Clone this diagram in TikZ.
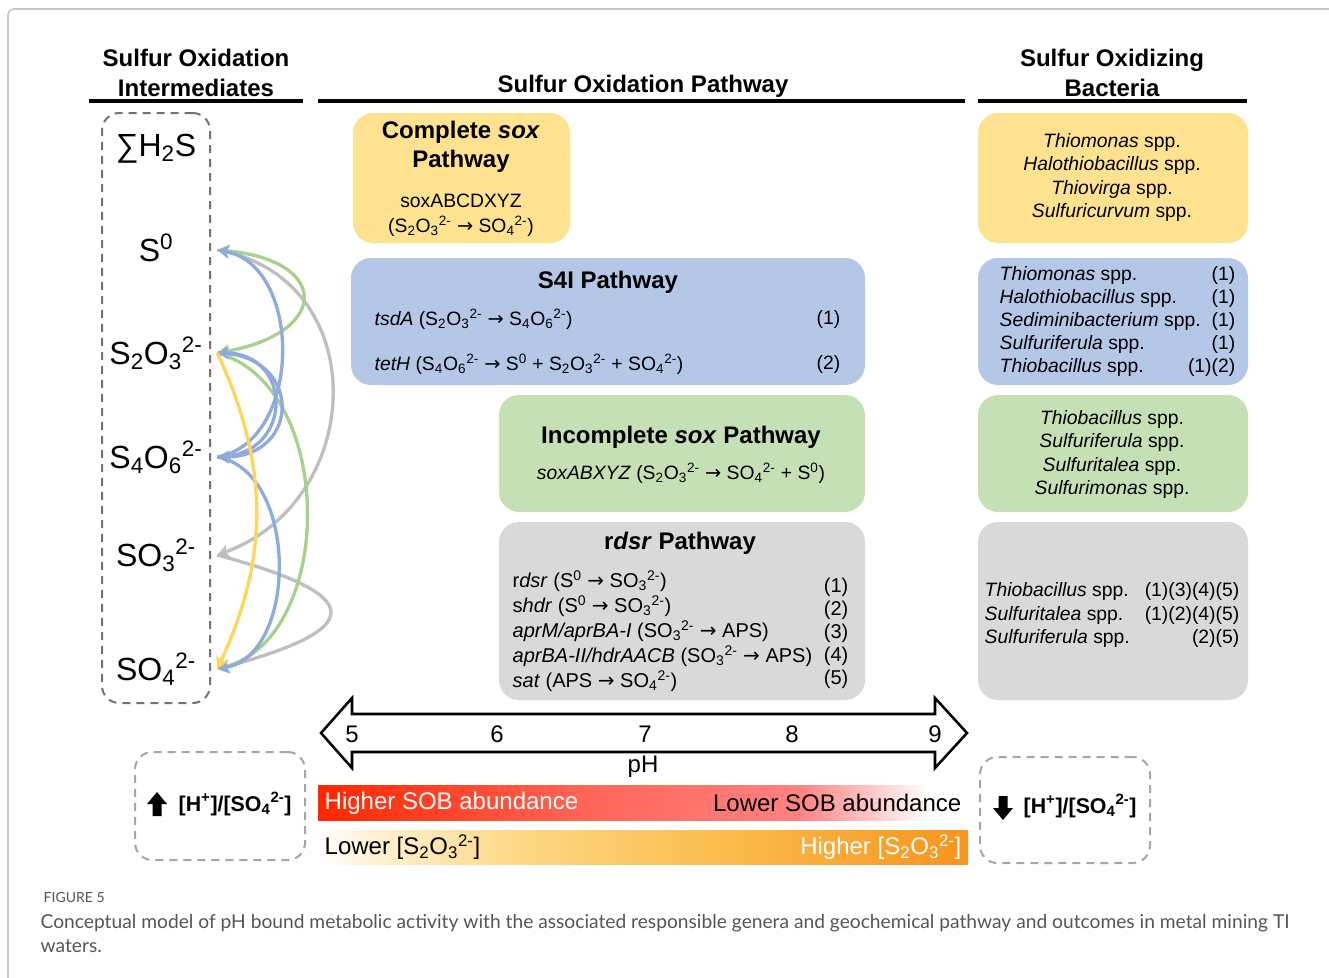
\documentclass[tikz,border=0pt]{standalone}
\usepackage{fontspec}
\setmainfont{Liberation Sans}
\newfontfamily\capfont{Lato}
\newfontfamily\arrfont{DejaVu Sans}
\usetikzlibrary{positioning,arrows.meta}

\definecolor{soxyellow}{RGB}{255,226,143}
\definecolor{s4iblue}{RGB}{180,199,231}
\definecolor{incgreen}{RGB}{198,224,181}
\definecolor{rdsrgray}{RGB}{217,217,217}
\definecolor{ayellow}{RGB}{255,214,90}
\definecolor{ablue}{RGB}{143,170,220}
\definecolor{agreen}{RGB}{169,209,142}
\definecolor{agray}{RGB}{191,191,191}
\definecolor{dashgray}{RGB}{115,115,115}
\definecolor{lowgray}{RGB}{165,165,165}
\definecolor{framegray}{RGB}{200,200,200}
\definecolor{capgray}{RGB}{85,85,85}
\definecolor{sobred}{RGB}{255,38,0}
\definecolor{sobmid}{RGB}{255,100,85}
\definecolor{sobpink}{RGB}{255,130,130}
\definecolor{orA}{RGB}{255,240,205}
\definecolor{orB}{RGB}{253,216,135}
\definecolor{orC}{RGB}{251,190,80}
\definecolor{orD}{RGB}{247,148,29}

\pgfdeclarehorizontalshading{sobshade}{100bp}{color(0bp)=(sobred); color(25bp)=(sobred);
  color(45bp)=(sobmid); color(62bp)=(sobpink); color(72bp)=(white); color(100bp)=(white)}
\pgfdeclarehorizontalshading{thioshade}{100bp}{color(0bp)=(white); color(25bp)=(white);
  color(30bp)=(orA); color(40bp)=(orB); color(55bp)=(orC); color(75bp)=(orD); color(100bp)=(orD)}

\newcommand{\ssub}[1]{\textsubscript{#1}}
\newcommand{\ssup}[1]{\textsuperscript{#1}}
\newcommand{\rarr}{{\arrfont →}}
\newcommand{\szero}{S\ssup{0}}
\newcommand{\thiosulf}{S\ssub{2}O\ssub{3}\ssup{2-}}
\newcommand{\tetrath}{S\ssub{4}O\ssub{6}\ssup{2-}}
\newcommand{\sulfite}{SO\ssub{3}\ssup{2-}}
\newcommand{\sulfate}{SO\ssub{4}\ssup{2-}}

\tikzset{oxtip/.tip={Stealth[length=9pt,width=10pt,inset=2.5pt]}}

\begin{document}
\begin{tikzpicture}[%
    x=0.75pt,
    y=-0.75pt,
    hdr/.style={%
      font=\fontsize{18}{22.5}\selectfont\bfseries,
      align=center
    },
    rule/.style={line width=2.3pt},
    species/.style={%
      font=\fontsize{24}{28}\selectfont,
      minimum width=91.5pt,
      text height=17pt,
      text depth=0pt,
      inner sep=0pt
    },
    pbox/.style={rounded corners=15pt, inner sep=0pt},
    dbox/.style={%
      draw=dashgray,
      line width=1.5pt,
      dash pattern=on 6pt off 4.5pt,
      rounded corners=13pt,
      inner sep=0pt
    },
    lowbox/.style={dbox, draw=lowgray},
    ttl/.style={font=\fontsize{18}{21.75}\selectfont\bfseries, align=center},
    bodytxt/.style={font=\fontsize{14.5}{18.75}\selectfont, align=center},
    reaction/.style={font=\fontsize{15}{18.75}\selectfont, align=left},
    bacttxt/.style={font=\fontsize{14.5}{17.4}\selectfont, align=center},
    phnum/.style={font=\fontsize{18}{22}\selectfont},
    bartxt/.style={font=\fontsize{18}{22}\selectfont},
    ratio/.style={font=\fontsize{16}{20}\selectfont\bfseries, anchor=west},
    oxarc/.style={line width=2.5pt, -oxtip}
  ]
    \useasboundingbox (0,0) rectangle (1329,978);
    \draw[framegray, line width=1.2pt, rounded corners=4pt] (1329,9) -- (8,9) -- (8,978);

    % column headers
    \node[hdr] (hleft)  at (196,73)  {Sulfur Oxidation\\Intermediates};
    \node[hdr] (hmid)   at (643,86)  {Sulfur Oxidation Pathway};
    \node[hdr] (hright) at (1112,73) {Sulfur Oxidizing\\Bacteria};
    \draw[rule] (89,101) -- (303,101);
    \draw[rule] (318,101) -- (965,101);
    \draw[rule] (978,101) -- (1247,101);

    % intermediates
    \node[dbox, minimum width=81pt, minimum height=442.5pt] (inter) at (156,408) {};
    \node[species] (h2s)     at (156,145) {∑H\ssub{2}S};
    \node[species] (s0)      at (156,250) {\szero};
    \node[species] (thio)    at (156,353) {\thiosulf};
    \node[species] (tetra)   at (156,457) {\tetrath};
    \node[species] (sulfite) at (156,555) {\sulfite};
    \node[species] (sulfate) at (156,669) {\sulfate};

    % pathways
    \node[pbox, fill=soxyellow, minimum width=162.75pt, minimum height=97.5pt] (soxbox)  at (461.5,178) {};
    \node[pbox, fill=s4iblue,   minimum width=385.5pt,  minimum height=95.25pt] (s4ibox) at (608,321.5) {};
    \node[pbox, fill=incgreen,  minimum width=274.5pt,  minimum height=87.75pt] (incbox) at (682,453.5) {};
    \node[pbox, fill=rdsrgray,  minimum width=274.5pt,  minimum height=133.5pt] (rdsrbox) at (682,611) {};

    \node[ttl] (soxttl) at (461,146.5) {Complete \textit{sox}\\Pathway};
    \node[bodytxt] (soxtxt) at (461,215.5) {soxABCDXYZ\\(\thiosulf{} \rarr{} \sulfate)};

    \node[ttl] (s4ittl) at (608,282) {S4I Pathway};
    \node[bodytxt, anchor=west] (tsda) at (370,319) {\textit{tsdA} (\thiosulf{} \rarr{} \tetrath)};
    \node[bodytxt, anchor=east] (tsdan) at (845,319) {(1)};
    \node[bodytxt, anchor=west] (teth) at (370,364) {\textit{tetH} (\tetrath{} \rarr{} \szero{} + \thiosulf{} + \sulfate)};
    \node[bodytxt, anchor=east] (tethn) at (845,364) {(2)};

    \node[ttl] (incttl) at (681,437) {Incomplete \textit{sox} Pathway};
    \node[bodytxt] (inctxt) at (681,473) {\textit{soxABXYZ} (\thiosulf{} \rarr{} \sulfate{} + \szero)};

    \node[ttl] (rdsrttl) at (680,543) {r\textit{dsr} Pathway};
    \node[reaction, anchor=west] (rdsrtxt) at (508,631) {%
      r\textit{dsr} (\szero{} \rarr{} \sulfite)\\
      s\textit{hdr} (\szero{} \rarr{} \sulfite)\\
      \textit{aprM/aprBA-I} (\sulfite{} \rarr{} APS)\\
      \textit{aprBA-II/hdrAACB} (\sulfite{} \rarr{} APS)\\
      \textit{sat} (APS \rarr{} \sulfate)};
    \node[reaction, align=right, anchor=east, font=\fontsize{15}{17.25}\selectfont] (rdsrnum) at (853,633) {(1)\\(2)\\(3)\\(4)\\(5)};

    % bacteria
    \node[pbox, fill=soxyellow, minimum width=202.5pt, minimum height=97.5pt]  (bsox)  at (1113,178) {};
    \node[pbox, fill=s4iblue,   minimum width=202.5pt, minimum height=95.25pt] (bs4i)  at (1113,321.5) {};
    \node[pbox, fill=incgreen,  minimum width=202.5pt, minimum height=87.75pt] (binc)  at (1113,453.5) {};
    \node[pbox, fill=rdsrgray,  minimum width=202.5pt, minimum height=133.5pt] (brdsr) at (1113,611) {};

    \node[bacttxt] (bsoxtxt) at (1112,177.5) {%
      \textit{Thiomonas} spp.\\\textit{Halothiobacillus} spp.\\
      \textit{Thiovirga} spp.\\\textit{Sulfuricurvum} spp.};
    \node[bacttxt, align=left, anchor=west] (bs4itxt) at (995,321.5) {%
      \textit{Thiomonas} spp.\\\textit{Halothiobacillus} spp.\\
      \textit{Sediminibacterium} spp.\\\textit{Sulfuriferula} spp.\\
      \textit{Thiobacillus} spp.};
    \node[bacttxt, align=right, anchor=east] (bs4inum) at (1240,321.5) {(1)\\(1)\\(1)\\(1)\\(1)(2)};
    \node[bacttxt] (binctxt) at (1112,454.5) {%
      \textit{Thiobacillus} spp.\\\textit{Sulfuriferula} spp.\\
      \textit{Sulfuritalea} spp.\\\textit{Sulfurimonas} spp.};
    \node[bacttxt, align=left, anchor=west] (brdsrtxt) at (980,615) {%
      \textit{Thiobacillus} spp.\\\textit{Sulfuritalea} spp.\\\textit{Sulfuriferula} spp.};
    \node[bacttxt, align=right, anchor=east] (brdsrnum) at (1244,615) {(1)(3)(4)(5)\\(1)(2)(4)(5)\\(2)(5)};

    % reactions between intermediates
    \path[oxarc]
      (s0.east)      edge [agray, out=-10, in=20, looseness=1.34]  (sulfite.east)
      (sulfite.east) edge [agray, out=-15, in=15, looseness=3.5]   (sulfate.east)
      (thio.east)    edge [agreen, bend left=75]                    (sulfate.east)
      (s0.east)      edge [agreen, oxtip-oxtip, out=-5, in=10, looseness=2.85] (thio.east)
      (tetra.east)   edge [ablue, bend right=80, looseness=1.08]    (s0.east)
      (thio.east)    edge [ablue, out=0, in=0, looseness=2.1]       (tetra.east)
      (tetra.east)   edge [ablue, out=0, in=0, looseness=1.9]       (thio.east)
      (tetra.east)   edge [ablue, bend left=80]                     (sulfate.east)
      (thio.east)    edge [ayellow, bend left=25]                   (sulfate.east)
      ;

    % pH scale
    \draw[line width=1.9pt, fill=white, line join=miter]
      (321,733) -- (352,698) -- (352,714) -- (935,714) -- (935,698) -- (967,733)
      -- (935,768) -- (935,752) -- (352,752) -- (352,768) -- cycle;
    \node[phnum] (ph5) at (352,734) {5};
    \node[phnum] (ph6) at (497,734) {6};
    \node[phnum] (ph7) at (645,734) {7};
    \node[phnum] (ph8) at (792,734) {8};
    \node[phnum] (ph9) at (935,734) {9};
    \node[phnum] (phlab) at (643,767) {pH};

    \node[shading=sobshade, minimum width=487.5pt, minimum height=26.25pt, inner sep=0pt] (sobbar) at (643,802.5) {};
    \node[bartxt, anchor=west, text=white] (sobhi) at (320,803) {Higher SOB abundance};
    \node[bartxt, anchor=east] (soblo) at (966,803) {Lower SOB abundance};
    \node[shading=thioshade, minimum width=487.5pt, minimum height=25.5pt, inner sep=0pt] (thiobar) at (643,847) {};
    \node[bartxt, anchor=west] (thiolo) at (320,847) {Lower [S\ssub{2}O\ssub{3}\ssup{2-}]};
    \node[bartxt, anchor=east, text=white] (thiohi) at (966,847) {Higher [S\ssub{2}O\ssub{3}\ssup{2-}]};

    % proton / sulfate ratio
    \node[lowbox, minimum width=127.5pt, minimum height=81pt] (acidbox) at (220,806) {};
    \fill (157,792) -- (167,804) -- (161.5,804) -- (161.5,816) -- (152.5,816) -- (152.5,804) -- (147,804) -- cycle;
    \node[ratio] (acidtxt) at (174,804) {[H\ssup{+}]/[SO\ssub{4}\ssup{2-}]};
    \node[lowbox, minimum width=127.5pt, minimum height=79.5pt] (basebox) at (1065,810) {};
    \fill (1003,820) -- (1013,808) -- (1007.5,808) -- (1007.5,796) -- (998.5,796) -- (998.5,808) -- (993,808) -- cycle;
    \node[ratio] (basetxt) at (1019,806) {[H\ssup{+}]/[SO\ssub{4}\ssup{2-}]};

    % caption
    \node[anchor=west, text=capgray, font=\capfont\fontsize{10.5}{12}\selectfont] (fig) at (39,897) {FIGURE 5};
    \node[anchor=west, align=left, text=capgray, font=\capfont\fontsize{14.4}{18}\selectfont] (cap) at (36,933) {%
      Conceptual model of pH bound metabolic activity with the associated responsible genera and geochemical pathway and outcomes in metal mining TI\\
      waters.};
  \end{tikzpicture}
\end{document}
